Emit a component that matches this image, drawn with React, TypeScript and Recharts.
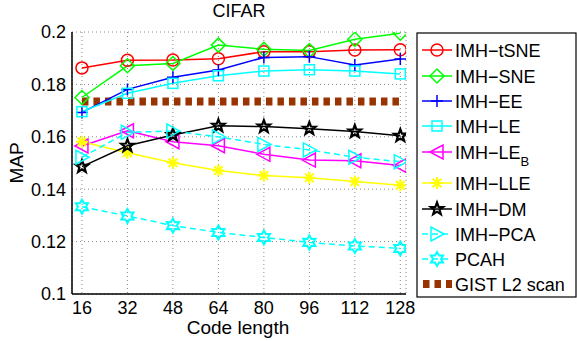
import React from "react";
import {
  LineChart,
  Line,
  XAxis,
  YAxis,
  CartesianGrid,
} from "recharts";

const codeLengths = [16, 32, 48, 64, 80, 96, 112, 128];
const yTicks = [0.1, 0.12, 0.14, 0.16, 0.18, 0.2];

const imhTsne = [0.1863, 0.1892, 0.1893, 0.1898, 0.1925, 0.1925, 0.1931, 0.1932];
const imhSne = [0.175, 0.1871, 0.188, 0.195, 0.1934, 0.1929, 0.1972, 0.1995];
const imhEe = [0.1693, 0.1781, 0.1827, 0.1855, 0.1903, 0.1906, 0.1874, 0.1897];
const imhLe = [0.1696, 0.1766, 0.1804, 0.1833, 0.1851, 0.1856, 0.1851, 0.184];
const imhLeB = [0.1565, 0.1623, 0.1581, 0.1566, 0.1533, 0.1511, 0.1509, 0.149];
const imhLle = [0.1581, 0.1539, 0.1501, 0.1471, 0.1452, 0.1444, 0.1429, 0.1415];
const imhDm = [0.1486, 0.1566, 0.1607, 0.1642, 0.1639, 0.1631, 0.162, 0.1604];
const imhPca = [0.1522, 0.1617, 0.1622, 0.16, 0.1571, 0.155, 0.1522, 0.1505];
const pcah = [0.1333, 0.1298, 0.1261, 0.1235, 0.1216, 0.1197, 0.1183, 0.1174];
const gistScan = [0.1735, 0.1735, 0.1735, 0.1735, 0.1735, 0.1735, 0.1735, 0.1735];

type MarkerKind =
  | "circle"
  | "diamond"
  | "plus"
  | "square"
  | "left"
  | "asterisk"
  | "pentagram"
  | "right"
  | "hexagram"
  | "none";

const series = [
  { key: "tsne", name: "IMH−tSNE", values: imhTsne, color: "#ff0000", marker: "circle" as MarkerKind, dash: undefined },
  { key: "sne", name: "IMH−SNE", values: imhSne, color: "#00ff00", marker: "diamond" as MarkerKind, dash: undefined },
  { key: "ee", name: "IMH−EE", values: imhEe, color: "#0000ff", marker: "plus" as MarkerKind, dash: undefined },
  { key: "le", name: "IMH−LE", values: imhLe, color: "#00ffff", marker: "square" as MarkerKind, dash: undefined },
  { key: "leb", name: "IMH−LE", sub: "B", values: imhLeB, color: "#ff00ff", marker: "left" as MarkerKind, dash: undefined },
  { key: "lle", name: "IMH−LLE", values: imhLle, color: "#ffff00", marker: "asterisk" as MarkerKind, dash: undefined },
  { key: "dm", name: "IMH−DM", values: imhDm, color: "#000000", marker: "pentagram" as MarkerKind, dash: undefined },
  { key: "pca", name: "IMH−PCA", values: imhPca, color: "#00ffff", marker: "right" as MarkerKind, dash: "6 4" },
  { key: "pcah", name: "PCAH", values: pcah, color: "#00ffff", marker: "hexagram" as MarkerKind, dash: "6 4" },
];

const gistColor = "#993300";

const rows = codeLengths.map((x, i) => {
  const r: Record<string, number> = { x, gist: gistScan[i] };
  series.forEach((s) => (r[s.key] = s.values[i]));
  return r;
});

function starPoints(cx: number, cy: number, n: number, ro: number, ri: number) {
  const pts: string[] = [];
  for (let i = 0; i < n * 2; i++) {
    const r = i % 2 === 0 ? ro : ri;
    const a = -Math.PI / 2 + (i * Math.PI) / n;
    pts.push(`${cx + r * Math.cos(a)},${cy + r * Math.sin(a)}`);
  }
  return pts.join(" ");
}

function Marker({ kind, cx, cy, color }: { kind: MarkerKind; cx: number; cy: number; color: string }) {
  const common = { fill: "none", stroke: color, strokeWidth: 1.5 };
  switch (kind) {
    case "circle":
      return <circle cx={cx} cy={cy} r={6} {...common} />;
    case "diamond":
      return <polygon points={`${cx},${cy - 7} ${cx + 7},${cy} ${cx},${cy + 7} ${cx - 7},${cy}`} {...common} />;
    case "plus":
      return <path d={`M${cx - 6},${cy}H${cx + 6}M${cx},${cy - 6}V${cy + 6}`} {...common} />;
    case "square":
      return <rect x={cx - 5} y={cy - 5} width={10} height={10} {...common} />;
    case "left":
      return <polygon points={`${cx - 7},${cy} ${cx + 6},${cy - 7} ${cx + 6},${cy + 7}`} {...common} />;
    case "right":
      return <polygon points={`${cx + 7},${cy} ${cx - 6},${cy - 7} ${cx - 6},${cy + 7}`} {...common} />;
    case "asterisk":
      return (
        <path
          d={`M${cx - 6},${cy}H${cx + 6}M${cx},${cy - 6}V${cy + 6}M${cx - 4.3},${cy - 4.3}L${cx + 4.3},${cy + 4.3}M${cx - 4.3},${cy + 4.3}L${cx + 4.3},${cy - 4.3}`}
          {...common}
          strokeWidth={2}
        />
      );
    case "pentagram":
      return <polygon points={starPoints(cx, cy, 5, 6.5, 2.7)} {...common} strokeWidth={2.2} />;
    case "hexagram":
      return <polygon points={starPoints(cx, cy, 6, 7, 4)} {...common} strokeWidth={2} />;
    default:
      return null;
  }
}

const font = "'Liberation Sans', Arial, Helvetica, sans-serif";
const legendRows = [50, 76, 101, 126, 152, 183, 209, 234, 259, 284];

export default function App() {
  return (
    <div style={{ position: "absolute", left: 0, top: 0, width: 577, height: 341, background: "#fff" }}>
      <LineChart
        width={577}
        height={341}
        data={rows}
        margin={{ top: 32, right: 171, bottom: 17, left: 0 }}
      >
        <CartesianGrid stroke="#888" strokeDasharray="1 3" />
        <XAxis
          dataKey="x"
          type="number"
          domain={[12.5, 130]}
          ticks={codeLengths}
          height={30}
          tickLine={false}
          tickSize={6}
          tickMargin={1}
          axisLine={{ stroke: "#000", strokeWidth: 1.5 }}
          tick={{ fontSize: 18, fill: "#000", fontFamily: font }}
          allowDataOverflow
        />
        <XAxis
          xAxisId="top"
          orientation="top"
          dataKey="x"
          type="number"
          domain={[12.5, 130]}
          height={0}
          tick={false}
          tickLine={false}
          axisLine={{ stroke: "#000", strokeWidth: 1.5 }}
        />
        <YAxis
          type="number"
          domain={[0.1, 0.2]}
          ticks={yTicks}
          width={72}
          tickLine={false}
          tickSize={6}
          tickMargin={0}
          axisLine={{ stroke: "#000", strokeWidth: 1.5 }}
          tick={{ fontSize: 18, fill: "#000", fontFamily: font }}
          tickFormatter={(v: number) => String(+v.toFixed(2))}
          allowDataOverflow
        />
        <YAxis
          yAxisId="right"
          orientation="right"
          type="number"
          domain={[0.1, 0.2]}
          width={0}
          tick={false}
          tickLine={false}
          axisLine={{ stroke: "#000", strokeWidth: 1.5 }}
        />
        <Line
          dataKey="gist"
          stroke={gistColor}
          strokeWidth={8}
          strokeDasharray="6.5 5"
          dot={false}
          isAnimationActive={false}
          type="linear"
        />
        {series.map((s) => (
          <Line
            key={s.key}
            dataKey={s.key}
            stroke={s.color}
            strokeWidth={1.5}
            strokeDasharray={s.dash}
            type="linear"
            isAnimationActive={false}
            dot={(p: any) => (
              <Marker key={`${s.key}-${p.index}`} kind={s.marker} cx={p.cx} cy={p.cy} color={s.color} />
            )}
            activeDot={false}
          />
        ))}
      </LineChart>
      <svg
        width={577}
        height={341}
        style={{ position: "absolute", left: 0, top: 0, pointerEvents: "none" }}
        fontFamily={font}
      >
        <text x={239} y={17} fontSize={18} textAnchor="middle">CIFAR</text>
        <text x={238} y={334} fontSize={19} textAnchor="middle">Code length</text>
        <text
          x={0}
          y={0}
          fontSize={19}
          textAnchor="middle"
          transform={`translate(23,163) rotate(-90)`}
        >
          MAP
        </text>
        <rect x={417} y={33} width={159} height={264} fill="#fff" stroke="#000" strokeWidth={1.2} />
        {series.map((s, i) => {
          const y = legendRows[i];
          return (
            <g key={s.key}>
              <line x1={422} x2={452} y1={y} y2={y} stroke={s.color} strokeWidth={1.5} strokeDasharray={s.dash} />
              <Marker kind={s.marker} cx={437} cy={y} color={s.color} />
              <text x={455} y={y + 6.5} fontSize={18}>
                {s.name}
                {s.sub ? (
                  <tspan fontSize={13} dy={7}>{s.sub}</tspan>
                ) : null}
              </text>
            </g>
          );
        })}
        <line
          x1={423}
          x2={452}
          y1={legendRows[9]}
          y2={legendRows[9]}
          stroke={gistColor}
          strokeWidth={8}
          strokeDasharray="6.5 5"
        />
        <text x={455} y={legendRows[9] + 6.5} fontSize={18}>GIST L2 scan</text>
      </svg>
    </div>
  );
}
